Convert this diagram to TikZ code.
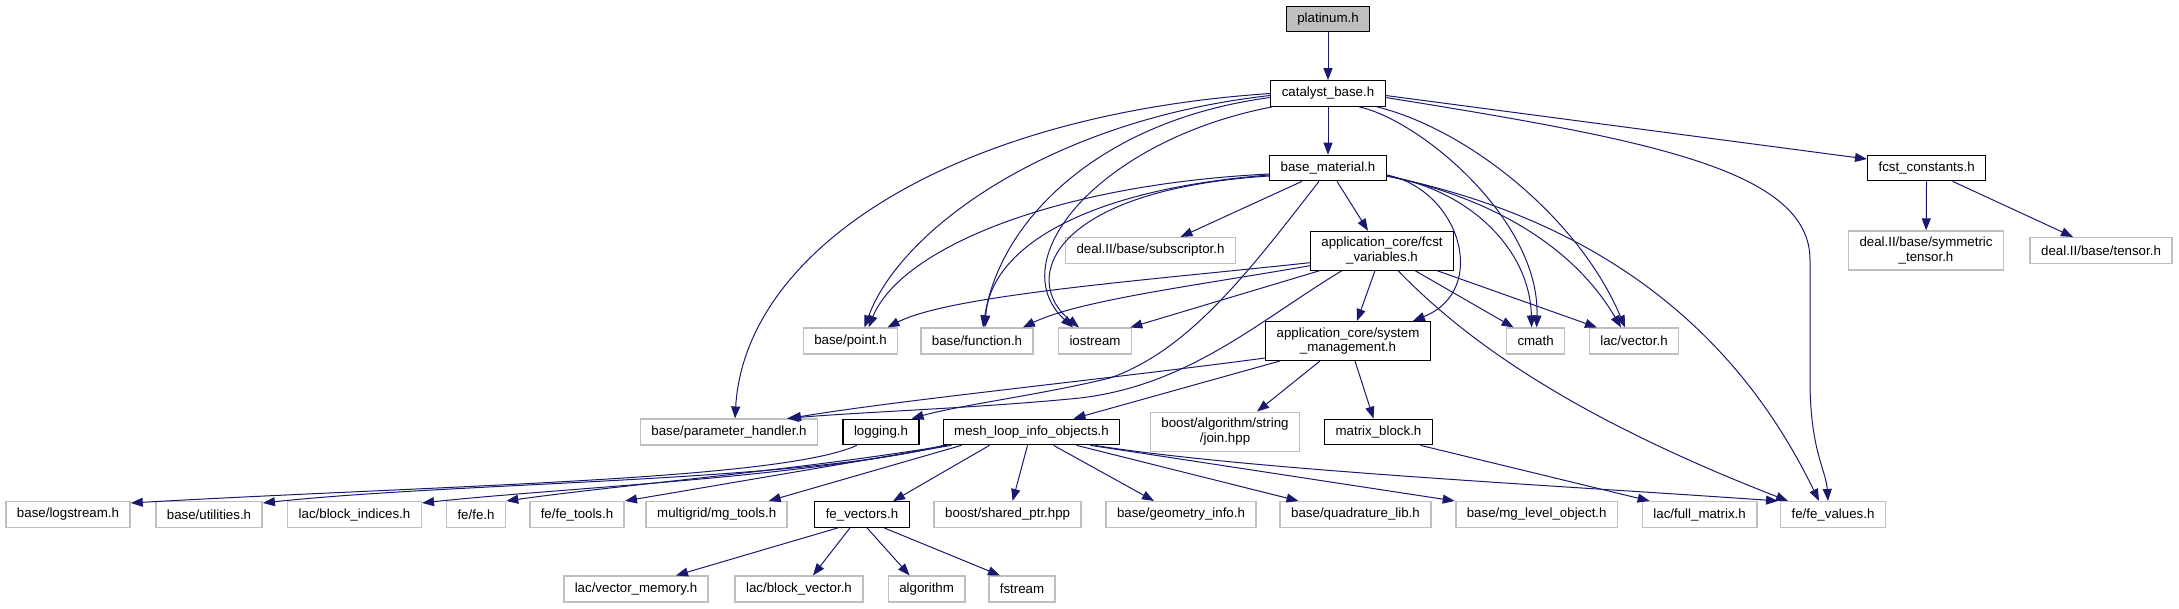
\documentclass[tikz,border=0pt]{standalone}
\usepackage{fontspec}
\setmainfont{Liberation Sans}
\usetikzlibrary{arrows.meta}
\definecolor{edgeblue}{HTML}{191970}
\definecolor{extgray}{HTML}{BFBFBF}
\tikzset{
  file/.style={rectangle, font=\fontsize{13.3}{14.5}\selectfont, align=center,
    inner xsep=11pt, inner ysep=6pt, minimum height=25.6pt},
  hdr/.style={file, draw=black, line width=1.1pt},
  ext/.style={file, draw=extgray, line width=1.5pt},
  root/.style={hdr, fill=extgray},
  incl/.style={draw=edgeblue, line width=1pt, -{Triangle[length=12pt,width=9pt]}},
}

\begin{document}
\begin{tikzpicture}[x=1pt,y=-1pt]
      \useasboundingbox (0,0) rectangle (2179,608);
      % headers
      \node[root] (plat) at (1328,19) {platinum.h};
      \node[hdr] (cat) at (1328,93.5) {catalyst\_base.h};
      \node[hdr] (bmat) at (1328,168) {base\_material.h};
      \node[hdr] (fconst) at (1926.6,168) {fcst\_constants.h};
      \node[ext] (subs) at (1150.5,250.5) {deal.II/base/subscriptor.h};
      \node[hdr] (fvars) at (1382,250.7) {application\_core/fcst\\\_variables.h};
      \node[ext] (symt) at (1926,250.5) {deal.II/base/symmetric\\\_tensor.h};
      \node[ext] (tens) at (2101,250.5) {deal.II/base/tensor.h};
      \node[ext] (point) at (850.5,341) {base/point.h};
      \node[ext] (func) at (977,341) {base/function.h};
      \node[ext] (iostr) at (1095,341) {iostream};
      \node[hdr] (sysm) at (1348,341) {application\_core/system\\\_management.h};
      \node[ext] (cmath) at (1535.6,341) {cmath};
      \node[ext] (lvec) at (1634,341) {lac/vector.h};
      \node[ext] (param) at (729,432) {base/parameter\_handler.h};
      \node[hdr] (logg) at (881,432) {logging.h};
      \node[hdr] (mesh) at (1031.5,432) {mesh\_loop\_info\_objects.h};
      \node[ext] (join) at (1225,431.8) {boost/algorithm/string\\/join.hpp};
      \node[hdr] (mblock) at (1378.5,432) {matrix\_block.h};
      % lower rows
      \node[ext] (logstr) at (68,514.5) {base/logstream.h};
      \node[ext] (util) at (209,514.5) {base/utilities.h};
      \node[ext] (bidx) at (354.5,514.5) {lac/block\_indices.h};
      \node[ext] (fefe) at (476,514.5) {fe/fe.h};
      \node[ext] (fetools) at (577,514.5) {fe/fe\_tools.h};
      \node[ext] (mgtools) at (716.7,514.5) {multigrid/mg\_tools.h};
      \node[hdr] (fevec) at (862,514.5) {fe\_vectors.h};
      \node[ext] (shptr) at (1007.6,514.5) {boost/shared\_ptr.hpp};
      \node[ext] (geom) at (1181,514.5) {base/geometry\_info.h};
      \node[ext] (quad) at (1355.5,514.5) {base/quadrature\_lib.h};
      \node[ext] (mglev) at (1536.7,514.5) {base/mg\_level\_object.h};
      \node[ext] (fullm) at (1699.6,514.5) {lac/full\_matrix.h};
      \node[ext] (fevals) at (1833,514.5) {fe/fe\_values.h};
      \node[ext] (vmem) at (636,589) {lac/vector\_memory.h};
      \node[ext] (bvec) at (799,589) {lac/block\_vector.h};
      \node[ext] (algo) at (926.6,589) {algorithm};
      \node[ext] (fstr) at (1022,589) {fstream};

      % platinum.h and catalyst_base.h
      \draw[incl] (plat) -- (cat);
      \draw[incl] (cat) -- (bmat);
      \draw[incl] ([yshift=-2pt]cat.east) -- ([yshift=9pt]fconst.west);
      \draw[incl] ([yshift=-4pt]cat.east) .. controls (1650,140) and (1810,170) .. (1810,260)
        -- (1810,380) .. controls (1810,450) and (1826,470) .. ([xshift=-5pt]fevals.north);
      \draw[incl] (cat.west) .. controls (950,115) and (745,250) .. ([xshift=6pt]param.north);
      \draw[incl] ([yshift=-2pt]cat.west) .. controls (1050,120) and (900,230) .. ([xshift=14pt]point.north);
      \draw[incl] ([yshift=-4pt]cat.west) .. controls (1100,120) and (1000,220) .. ([xshift=6pt]func.north);
      \draw[incl] ([xshift=2pt]cat.south west) .. controls (1100,140) and (1000,260) .. ([xshift=-22pt]iostr.north);
      \draw[incl] ([xshift=31pt]cat.south) .. controls (1420,120) and (1540,220) .. ([xshift=1pt]cmath.north);
      \draw[incl] ([xshift=49pt]cat.south) .. controls (1470,130) and (1580,220) .. ([xshift=-9pt]lvec.north);

      % base_material.h
      \draw[incl] ([xshift=9pt]bmat.south) -- ([xshift=-14pt]fvars.north);
      \draw[incl] ([xshift=-26pt]bmat.south) -- ([xshift=30pt]subs.north);
      \draw[incl] ([yshift=-6pt]bmat.west) .. controls (1050,185) and (900,250) .. ([xshift=18pt]point.north);
      \draw[incl] ([yshift=-7pt]bmat.west) .. controls (1080,190) and (990,250) .. ([xshift=8pt]func.north);
      \draw[incl] ([yshift=-8pt]bmat.west) .. controls (1050,190) and (1020,280) .. ([xshift=-16pt]iostr.north);
      \draw[incl] ([xshift=-9pt]bmat.south) .. controls (1250,270) and (1190,350) .. (1110,378)
        .. controls (1040,395) and (960,405) .. ([xshift=-8pt]logg.north east);
      \draw[incl] ([yshift=-7pt]bmat.east) .. controls (1460,190) and (1490,290) .. ([xshift=-18pt]sysm.north east);
      \draw[incl] ([yshift=-8pt]bmat.east) .. controls (1470,190) and (1530,250) .. ([xshift=-4pt]cmath.north);
      \draw[incl] ([yshift=-8pt]bmat.east) .. controls (1480,195) and (1570,240) .. ([xshift=-13pt]lvec.north);
      \draw[incl] ([yshift=-8pt]bmat.east) .. controls (1650,230) and (1760,380) .. ([xshift=-14pt]fevals.north);

      % fcst_variables.h
      \draw[incl] ([yshift=-12pt]fvars.west) .. controls (1150,280) and (950,295) .. ([xshift=-11pt]point.north east);
      \draw[incl] ([yshift=-15pt]fvars.west) .. controls (1200,285) and (1080,300) .. ([xshift=-11pt]func.north east);
      \draw[incl] ([xshift=10pt]fvars.south west) -- ([xshift=-2pt]iostr.north east);
      \draw[incl] ([xshift=-7pt]fvars.south) -- ([xshift=9pt]sysm.north);
      \draw[incl] ([xshift=33pt]fvars.south) -- ([xshift=-22pt]cmath.north);
      \draw[incl] ([xshift=55pt]fvars.south) -- ([xshift=-37pt]lvec.north);
      \draw[incl] ([xshift=16pt]fvars.south) .. controls (1470,345) and (1580,420) .. ([xshift=-45pt]fevals.north);
      \draw[incl] ([xshift=-40pt]fvars.south) .. controls (1260,320) and (1190,385) .. (1080,398)
        .. controls (980,408) and (860,412) .. ([xshift=58pt]param.north);

      % system_management.h
      \draw[incl] ([yshift=-17pt]sysm.west) .. controls (1100,380) and (900,400) .. ([xshift=60pt]param.north);
      \draw[incl] ([xshift=-68pt]sysm.south) -- ([xshift=42pt]mesh.north);
      \draw[incl] ([xshift=-28pt]sysm.south) -- ([xshift=32pt]join.north);
      \draw[incl] ([xshift=7pt]sysm.south) -- ([xshift=-5pt]mblock.north);

      % fcst_constants.h
      \draw[incl] (fconst) -- (symt);
      \draw[incl] ([xshift=26pt]fconst.south) -- ([xshift=-28pt]tens.north);

      % mesh_loop_info_objects.h and logging.h
      \draw[incl] ([xshift=-42pt]mesh.south) -- ([xshift=31pt]fevec.north);
      \draw[incl] ([xshift=-4pt]mesh.south) -- ([xshift=5pt]shptr.north);
      \draw[incl] ([xshift=22pt]mesh.south) -- ([xshift=-27pt]geom.north);
      \draw[incl] ([xshift=45pt]mesh.south) -- ([xshift=-57pt]quad.north);
      \draw[incl] ([xshift=-30pt]mesh.south east) -- ([xshift=-82pt]mglev.north);
      \draw[incl] ([xshift=-26pt]mesh.south east) .. controls (1250,470) and (1550,485) .. ([xshift=-55pt]fevals.north);
      \draw[incl] ([xshift=-70pt]mesh.south) -- ([xshift=52pt]mgtools.north);
      \draw[incl] ([xshift=-80pt]mesh.south) -- (fetools.north east);
      \draw[incl] ([xshift=-84pt]mesh.south) .. controls (800,470) and (620,485) .. (fefe.north east);
      \draw[incl] ([xshift=-86pt]mesh.south) .. controls (800,478) and (560,488) .. ([yshift=-2pt]bidx.north east);
      \draw[incl] ([xshift=-88pt]mesh.south) .. controls (800,482) and (460,482) .. ([yshift=-2pt]util.north east);
      \draw[incl] ([xshift=-24pt]logg.south) .. controls (780,480) and (450,485) .. ([yshift=-2pt]logstr.north east);

      % fe_vectors.h and matrix_block.h
      \draw[incl] ([xshift=-24pt]fevec.south) -- ([xshift=40pt]vmem.north);
      \draw[incl] ([xshift=-12pt]fevec.south) -- ([xshift=14pt]bvec.north);
      \draw[incl] ([xshift=5pt]fevec.south) -- ([xshift=-17pt]algo.north);
      \draw[incl] ([xshift=22pt]fevec.south) -- ([xshift=-22pt]fstr.north);
      \draw[incl] ([xshift=42pt]mblock.south) -- ([xshift=-50pt]fullm.north);
\end{tikzpicture}
\end{document}
